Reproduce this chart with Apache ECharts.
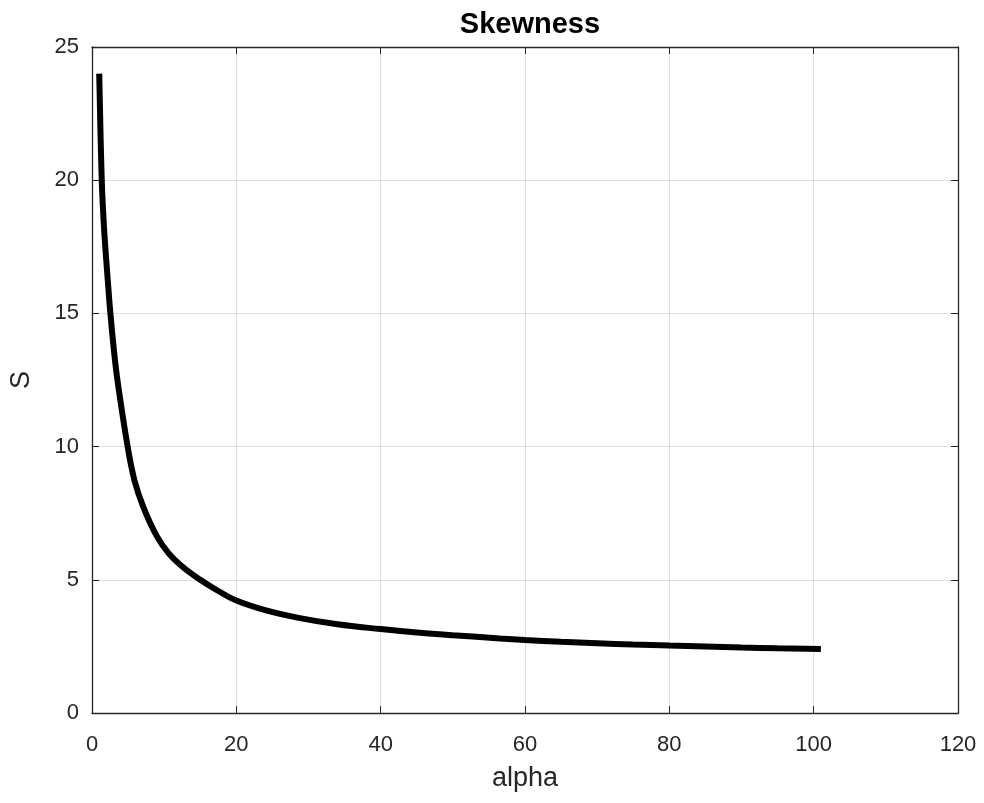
<!DOCTYPE html>
<html>
<head>
<meta charset="utf-8">
<script src="https://cdn.jsdelivr.net/npm/echarts@6/dist/echarts.min.js"></script>
<style>
html,body{margin:0;padding:0;background:#fff;}
#chart{width:984px;height:803px;}
</style>
</head>
<body>
<div id="chart"></div>
<script>
var titleText = 'Skewness';
var xName = 'alpha';
var yName = 'S';
var alphaValues = [1, 1.34, 1.66, 2.17, 2.55, 3.2, 3.65, 4.94, 5.87, 7.1, 8.96, 10.6, 12.5, 15, 17.5, 20, 24, 28.8, 34, 40, 45, 50, 56.5, 60, 65, 70, 75, 80, 85, 90, 95, 101];
var skewValues  = [24.0, 20.1, 18.25, 16.3, 15.0, 13.2, 12.25, 10.0, 8.75, 7.74, 6.65, 6.0, 5.5, 5.0, 4.58, 4.22, 3.86, 3.56, 3.33, 3.15, 3.02, 2.92, 2.80, 2.74, 2.67, 2.62, 2.57, 2.53, 2.50, 2.46, 2.43, 2.40];
var xTicks = [0, 20, 40, 60, 80, 100, 120];
var yTicks = [0, 5, 10, 15, 20, 25];

var seriesData = alphaValues.map(function (a, i) { return [a, skewValues[i]]; });
var font = 'Liberation Sans, Arial, Helvetica, sans-serif';
var axisColor = '#262626';

var chart = echarts.init(document.getElementById('chart'), null, {renderer: 'canvas'});
chart.setOption({
  animation: false,
  backgroundColor: '#ffffff',
  title: {
    text: titleText,
    left: 525,
    textAlign: 'center',
    top: 5,
    textStyle: {fontFamily: font, fontSize: 29, fontWeight: 'bold', color: '#000'}
  },
  grid: {left: 92, right: 26, top: 47, bottom: 90, containLabel: false, outerBoundsMode: 'none'},
  xAxis: [{
    type: 'value',
    min: xTicks[0], max: xTicks[xTicks.length - 1], interval: 20,
    name: xName, nameLocation: 'middle', nameGap: 52,
    nameTextStyle: {fontFamily: font, fontSize: 27, color: axisColor},
    axisLine: {show: true, onZero: false, lineStyle: {color: axisColor, width: 1.3}},
    axisTick: {show: true, inside: true, length: 7, lineStyle: {color: axisColor}},
    axisLabel: {fontFamily: font, fontSize: 22, color: axisColor, margin: 21},
    splitLine: {show: true, lineStyle: {color: '#dedede', width: 1}}
  }, {
    type: 'value', position: 'top',
    min: xTicks[0], max: xTicks[xTicks.length - 1], interval: 20,
    axisLine: {show: true, onZero: false, lineStyle: {color: axisColor, width: 1.3}},
    axisTick: {show: true, inside: true, length: 7, lineStyle: {color: axisColor}},
    axisLabel: {show: false},
    splitLine: {show: false}
  }],
  yAxis: [{
    type: 'value',
    min: yTicks[0], max: yTicks[yTicks.length - 1], interval: 5,
    name: yName, nameLocation: 'middle', nameGap: 57, nameRotate: 90,
    nameTextStyle: {fontFamily: font, fontSize: 27, color: axisColor},
    axisLine: {show: true, onZero: false, lineStyle: {color: axisColor, width: 1.3}},
    axisTick: {show: true, inside: true, length: 7, lineStyle: {color: axisColor}},
    axisLabel: {fontFamily: font, fontSize: 22, color: axisColor, margin: 13},
    splitLine: {show: true, lineStyle: {color: '#dedede', width: 1}}
  }, {
    type: 'value', position: 'right',
    min: yTicks[0], max: yTicks[yTicks.length - 1], interval: 5,
    axisLine: {show: true, onZero: false, lineStyle: {color: axisColor, width: 1.3}},
    axisTick: {show: true, inside: true, length: 7, lineStyle: {color: axisColor}},
    axisLabel: {show: false},
    splitLine: {show: false}
  }],
  series: [{
    type: 'line',
    data: seriesData,
    xAxisIndex: 0, yAxisIndex: 0,
    showSymbol: false,
    smooth: 0.4,
    lineStyle: {color: '#000', width: 6},
    z: 5
  }]
});
</script>
</body>
</html>
